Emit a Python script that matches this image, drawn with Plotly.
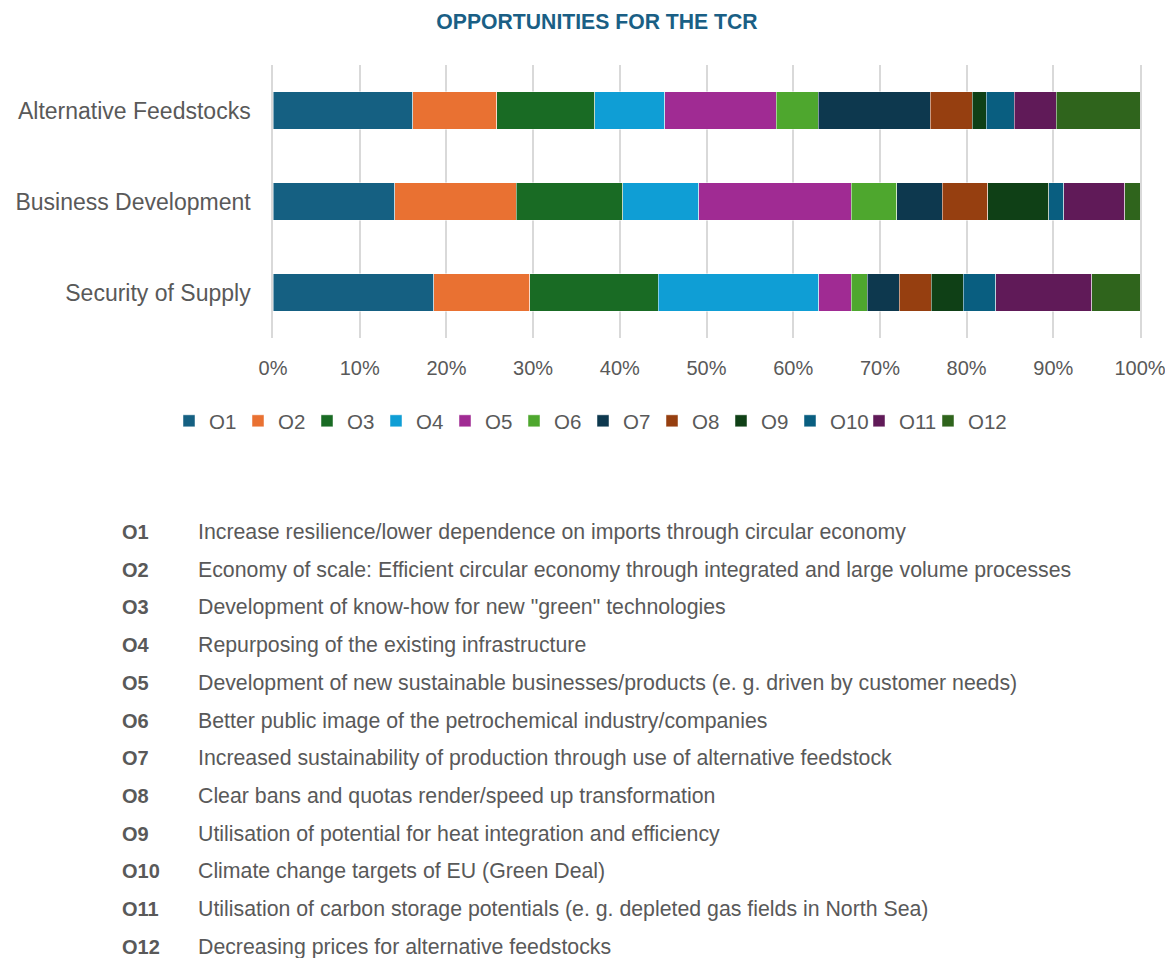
import plotly.graph_objects as go

categories = ["Security of Supply", "Business Development", "Alternative Feedstocks"]
series_names = ["O1", "O2", "O3", "O4", "O5", "O6", "O7", "O8", "O9", "O10", "O11", "O12"]
# counts per category, order: Security of Supply, Business Development, Alternative Feedstocks
O1 = [10, 8, 10]
O2 = [6, 8, 6]
O3 = [8, 7, 7]
O4 = [10, 5, 5]
O5 = [2, 10, 8]
O6 = [1, 3, 3]
O7 = [2, 3, 8]
O8 = [2, 3, 3]
O9 = [2, 4, 1]
O10 = [2, 1, 2]
O11 = [6, 4, 3]
O12 = [3, 1, 6]
series_values = [O1, O2, O3, O4, O5, O6, O7, O8, O9, O10, O11, O12]
tick_vals = [0, 10, 20, 30, 40, 50, 60, 70, 80, 90, 100]
tick_text = ["0%", "10%", "20%", "30%", "40%", "50%", "60%", "70%", "80%", "90%", "100%"]
descriptions = [
    "Increase resilience/lower dependence on imports through circular economy",
    "Economy of scale: Efficient circular economy through integrated and large volume processes",
    "Development of know-how for new \"green\" technologies",
    "Repurposing of the existing infrastructure",
    "Development of new sustainable businesses/products (e. g. driven by customer needs)",
    "Better public image of the petrochemical industry/companies",
    "Increased sustainability of production through use of alternative feedstock",
    "Clear bans and quotas render/speed up transformation",
    "Utilisation of potential for heat integration and efficiency",
    "Climate change targets of EU (Green Deal)",
    "Utilisation of carbon storage potentials (e. g. depleted gas fields in North Sea)",
    "Decreasing prices for alternative feedstocks",
]

colors = ["#156082", "#E97132", "#196B24", "#0F9ED5", "#A02B93", "#4EA72E",
          "#0D384E", "#963F10", "#0F4016", "#095E80", "#601A58", "#2F641C"]

# figure is placed at an 8px page offset, so pixel targets are shifted by 8
W, H = 1157, 950
ML, MR, MT, MB = 265, 25, 57, 620
plot_w = W - ML - MR
plot_h = H - MT - MB

FONT = "Liberation Sans, Arial, sans-serif"
GREY = "#595959"
GRID = "#D9D9D9"

fig = go.Figure()
for name, vals, c in zip(series_names, series_values, colors):
    fig.add_trace(go.Bar(
        y=categories, x=vals, name=name, orientation="h",
        marker=dict(color=c, line=dict(color="rgba(255,255,255,0.6)", width=0.8)),
    ))
# invisible legend-only spacer so the last legend label is not clipped
fig.add_trace(go.Bar(y=[categories[0]], x=[0], name=" ", orientation="h", visible="legendonly",
                     marker=dict(color="rgba(0,0,0,0)", line=dict(width=0)), hoverinfo="skip"))

def ypx(px):
    return (H - MB - px) / plot_h

def xpx(px):
    return (px - ML) / plot_w

annotations = []
for i, (name, desc) in enumerate(zip(series_names, descriptions)):
    y = 524 + i * 37.7
    annotations.append(dict(x=xpx(112), y=ypx(y), xref="paper", yref="paper",
                            text="<b>%s</b>" % name, showarrow=False, xanchor="left", yanchor="middle",
                            font=dict(family=FONT, size=20, color=GREY)))
    annotations.append(dict(x=xpx(188), y=ypx(y), xref="paper", yref="paper",
                            text=desc, showarrow=False, xanchor="left", yanchor="middle",
                            font=dict(family=FONT, size=21.3, color=GREY)))

fig.update_layout(
    barmode="stack", barnorm="percent", bargap=0.59,
    width=W, height=H,
    margin=dict(l=ML, r=MR, t=MT, b=MB, autoexpand=False),
    paper_bgcolor="white", plot_bgcolor="white",
    title=dict(text="<b>OPPORTUNITIES FOR THE TCR</b>", x=589 / W, xanchor="center", y=1 - 14 / H, yanchor="middle",
               font=dict(family=FONT, size=21.2, color="#1A5F85")),
    xaxis=dict(range=[0, 100], tickvals=tick_vals, ticktext=tick_text, showgrid=True, gridcolor=GRID, gridwidth=1.5,
               zeroline=False, showline=False, ticks="", ticklabelstandoff=16, ticklabeloverflow="allow",
               automargin=False, tickfont=dict(family=FONT, size=20, color=GREY)),
    yaxis=dict(showgrid=False, ticks="", showline=True, linecolor=GRID, linewidth=1.5, mirror=True,
               ticklabelstandoff=16, automargin=False, tickfont=dict(family=FONT, size=23, color=GREY)),
    legend=dict(orientation="h", x=xpx(161), xanchor="left", y=ypx(413), yanchor="middle",
                font=dict(family=FONT, size=20.5, color=GREY), traceorder="normal", itemwidth=30,
                entrywidth=24, entrywidthmode="pixels", tracegroupgap=0,
                bgcolor="rgba(0,0,0,0)", itemclick=False, itemdoubleclick=False),
    showlegend=True,
    annotations=annotations,
)

fig.write_html("out.html")
